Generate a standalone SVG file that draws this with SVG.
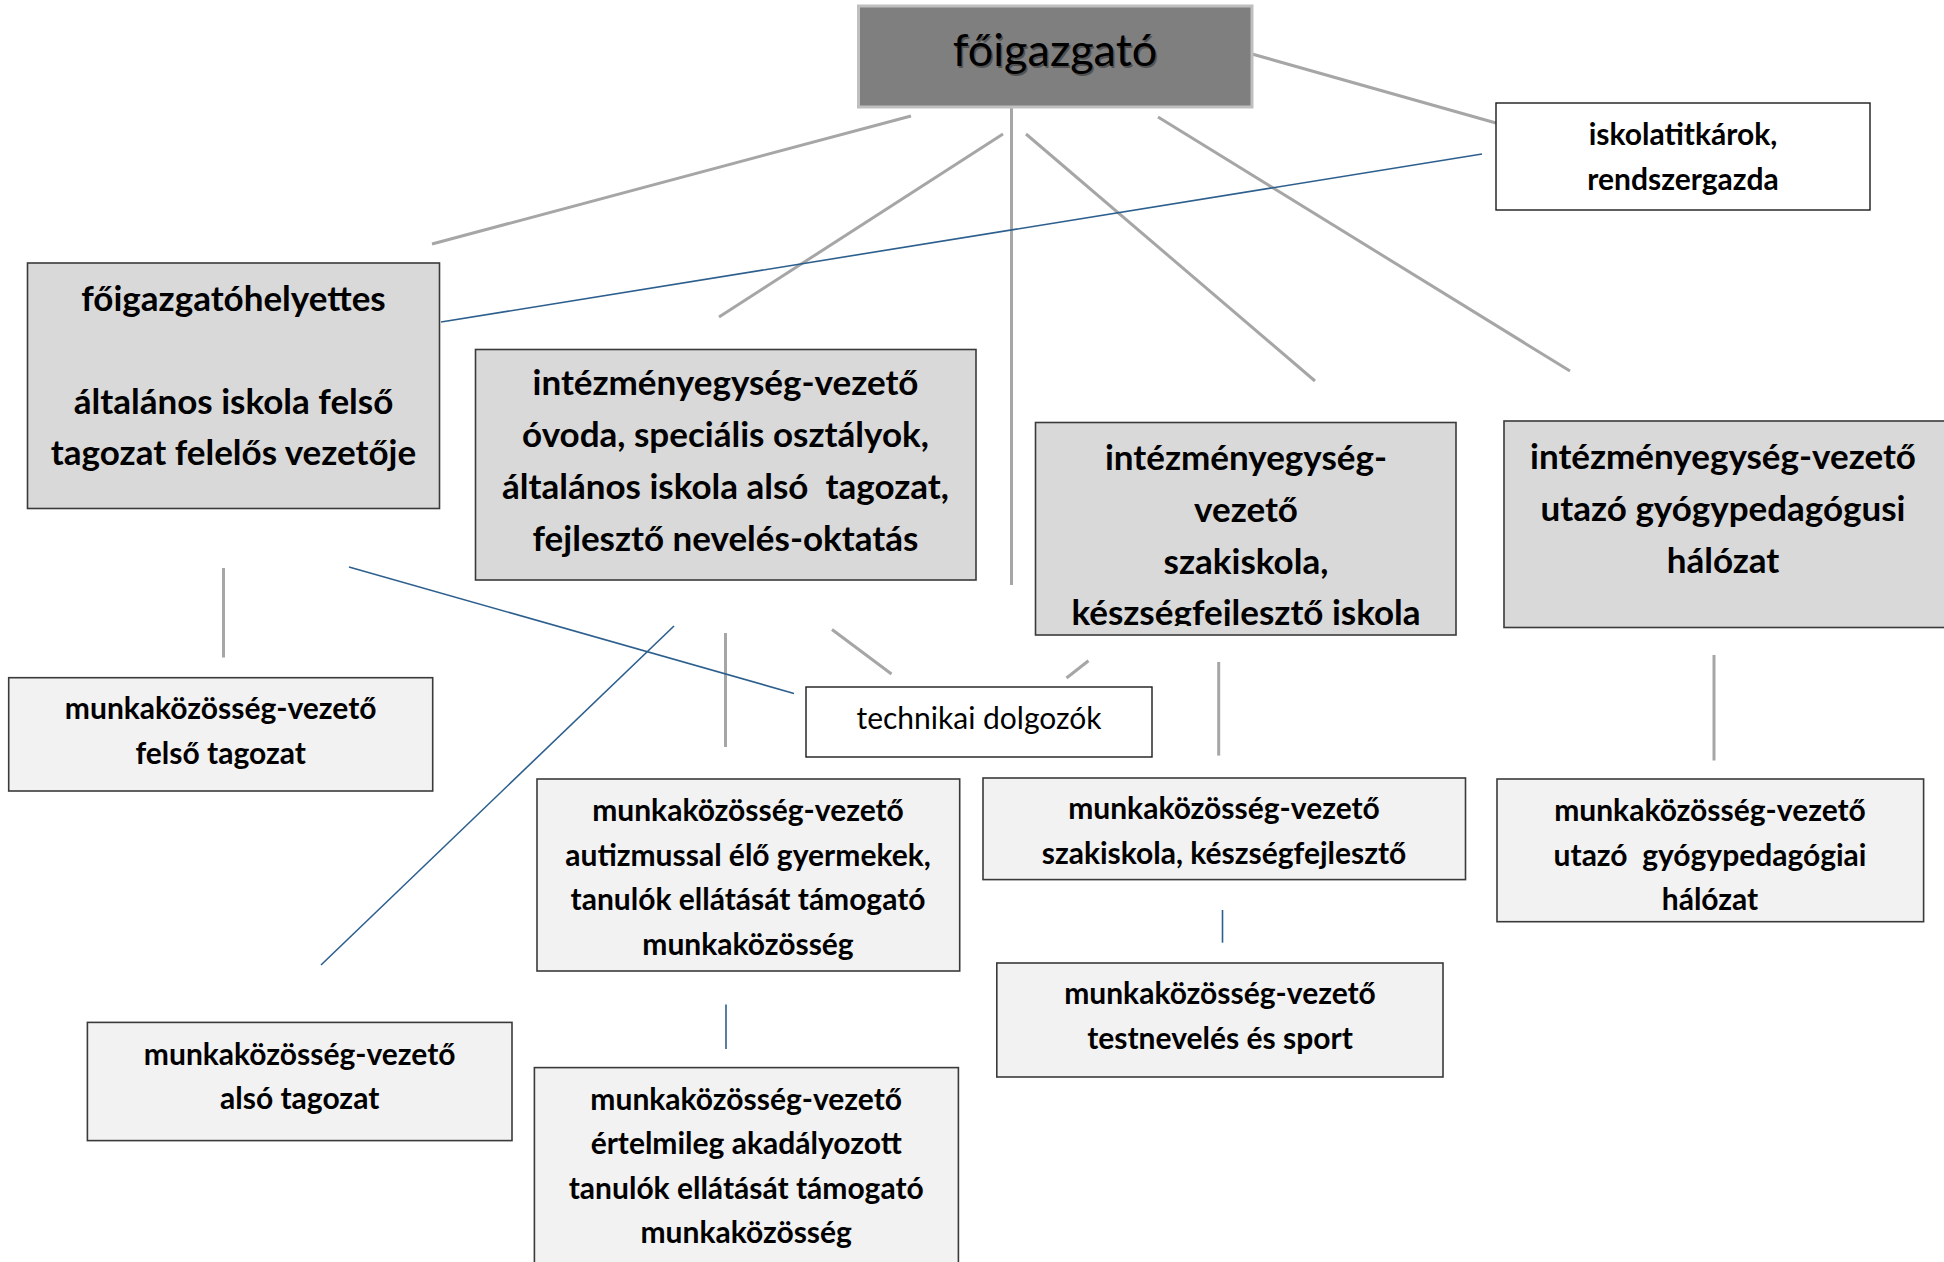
<svg xmlns="http://www.w3.org/2000/svg" width="1944" height="1262" viewBox="0 0 1944 1262">
<defs>
<style>
.t{font-family:Lato,"Liberation Sans",sans-serif;text-anchor:middle;fill:#000}
.b{font-weight:bold}
.big{font-size:35px}
.sm{font-size:30px}
.main{fill:#d9d9d9;stroke:#3a3a3a;stroke-width:1.6}
.sub{fill:#f2f2f2;stroke:#3a3a3a;stroke-width:1.6}
.wh{fill:#fff;stroke:#1a1a1a;stroke-width:1.4}
.g{stroke:#a6a6a6;stroke-width:3;fill:none}
.bl{stroke:#2d5f8e;stroke-width:1.6;fill:none}
.pre{white-space:pre}
</style>
<clipPath id="clipSzak"><rect x="1036" y="423" width="420" height="203"/></clipPath>
</defs>
<rect width="1944" height="1262" fill="#fff"/>

<g id="connectors">
<line class="g" x1="911" y1="116" x2="432" y2="244"/>
<line class="g" x1="1003" y1="134" x2="719" y2="317"/>
<line class="g" x1="1011.5" y1="108" x2="1011.5" y2="585"/>
<line class="g" x1="1026" y1="134" x2="1315" y2="381"/>
<line class="g" x1="1158" y1="117" x2="1570" y2="371"/>
<line class="g" x1="1252" y1="54" x2="1496" y2="123"/>
<line class="g" x1="223.5" y1="568" x2="223.5" y2="657.5"/>
<line class="g" x1="725.5" y1="633" x2="725.5" y2="747"/>
<line class="g" x1="832" y1="629.5" x2="891.5" y2="674"/>
<line class="g" x1="1088.5" y1="660.7" x2="1066.5" y2="678"/>
<line class="g" x1="1218.7" y1="662" x2="1218.7" y2="755.6"/>
<line class="g" x1="1714" y1="655" x2="1714" y2="760.5"/>
<line class="bl" x1="441" y1="322" x2="1482" y2="154"/>
<line class="bl" x1="349" y1="567" x2="794" y2="693.4"/>
<line class="bl" x1="674" y1="626" x2="321" y2="965"/>
<line class="bl" x1="726" y1="1004.5" x2="726" y2="1049"/>
<line class="bl" x1="1222.5" y1="910" x2="1222.5" y2="942.7"/>
</g>

<g id="foigazgato">
<rect x="858.5" y="6" width="393.5" height="101" fill="#7f7f7f" stroke="#bfbfbf" stroke-width="3"/>
<text class="t" x="1056.5" y="67.5" font-size="45" fill="#6a6a6a" opacity="0.35">főigazgató</text>
<text class="t" x="1055" y="66" font-size="45" fill="#111">főigazgató</text>
</g>

<g id="iskolatitkarok">
<rect class="wh" x="1496" y="103" width="374" height="107"/>
<text class="t b sm" x="1683" y="145">iskolatitkárok,</text>
<text class="t b sm" x="1683" y="189.5">rendszergazda</text>
</g>

<g id="foigazgatohelyettes">
<rect class="main" x="27.5" y="263" width="412" height="245.5"/>
<text class="t b big" x="233.5" y="310.5">főigazgatóhelyettes</text>
<text class="t b big" x="233.5" y="413.5">általános iskola felső</text>
<text class="t b big" x="233.5" y="464.5">tagozat felelős vezetője</text>
</g>

<g id="iev-ovoda">
<rect class="main" x="475.5" y="349.5" width="500.5" height="230.5"/>
<text class="t b big" x="725.5" y="394.5">intézményegység-vezető</text>
<text class="t b big" x="725.5" y="446.5">óvoda, speciális osztályok,</text>
<text class="t b big pre" x="725.5" y="498.5">általános iskola alsó  tagozat,</text>
<text class="t b big" x="725.5" y="550.5">fejlesztő nevelés-oktatás</text>
</g>

<g id="iev-szakiskola">
<rect class="main" x="1035.5" y="422.5" width="420.5" height="212.5"/>
<g clip-path="url(#clipSzak)">
<text class="t b big" x="1246" y="469.5">intézményegység-</text>
<text class="t b big" x="1246" y="521.5">vezető</text>
<text class="t b big" x="1246" y="573.5">szakiskola,</text>
<text class="t b big" x="1246" y="624.5">készségfejlesztő iskola</text>
</g>
</g>

<g id="iev-utazo">
<rect class="main" x="1504" y="421" width="450" height="206.5"/>
<text class="t b big" x="1723" y="468.5">intézményegység-vezető</text>
<text class="t b big" x="1723" y="520.5">utazó gyógypedagógusi</text>
<text class="t b big" x="1723" y="572.5">hálózat</text>
</g>

<g id="technikai">
<rect class="wh" x="806" y="687" width="346" height="70"/>
<text class="t sm" x="979" y="728.5">technikai dolgozók</text>
</g>

<g id="mkv-felso">
<rect class="sub" x="8.7" y="677.7" width="424" height="113.3"/>
<text class="t b sm" x="220.7" y="718.5">munkaközösség-vezető</text>
<text class="t b sm" x="220.7" y="763.5">felső tagozat</text>
</g>

<g id="mkv-autizmus">
<rect class="sub" x="537" y="779" width="422.7" height="192"/>
<text class="t b sm" x="748" y="821">munkaközösség-vezető</text>
<text class="t b sm" x="748" y="865.5">autizmussal élő gyermekek,</text>
<text class="t b sm" x="748" y="910">tanulók ellátását támogató</text>
<text class="t b sm" x="748" y="954.5">munkaközösség</text>
</g>

<g id="mkv-also">
<rect class="sub" x="87.4" y="1022.4" width="424.6" height="118.2"/>
<text class="t b sm" x="299.7" y="1064.5">munkaközösség-vezető</text>
<text class="t b sm" x="299.7" y="1109">alsó tagozat</text>
</g>

<g id="mkv-ertelmi">
<rect class="sub" x="534.4" y="1067.6" width="424" height="210"/>
<text class="t b sm" x="746.2" y="1109.5">munkaközösség-vezető</text>
<text class="t b sm" x="746.2" y="1154">értelmileg akadályozott</text>
<text class="t b sm" x="746.2" y="1198.5">tanulók ellátását támogató</text>
<text class="t b sm" x="746.2" y="1243">munkaközösség</text>
</g>

<g id="mkv-szakiskola">
<rect class="sub" x="983" y="778" width="482.5" height="101.6"/>
<text class="t b sm" x="1224" y="818.5">munkaközösség-vezető</text>
<text class="t b sm" x="1224" y="863.5">szakiskola, készségfejlesztő</text>
</g>

<g id="mkv-testneveles">
<rect class="sub" x="996.8" y="963" width="446.2" height="114"/>
<text class="t b sm" x="1220" y="1004">munkaközösség-vezető</text>
<text class="t b sm" x="1220" y="1049">testnevelés és sport</text>
</g>

<g id="mkv-utazo">
<rect class="sub" x="1497" y="779" width="426.6" height="142.7"/>
<text class="t b sm" x="1710" y="821">munkaközösség-vezető</text>
<text class="t b sm pre" x="1710" y="865.5">utazó  gyógypedagógiai</text>
<text class="t b sm" x="1710" y="910">hálózat</text>
</g>
</svg>
